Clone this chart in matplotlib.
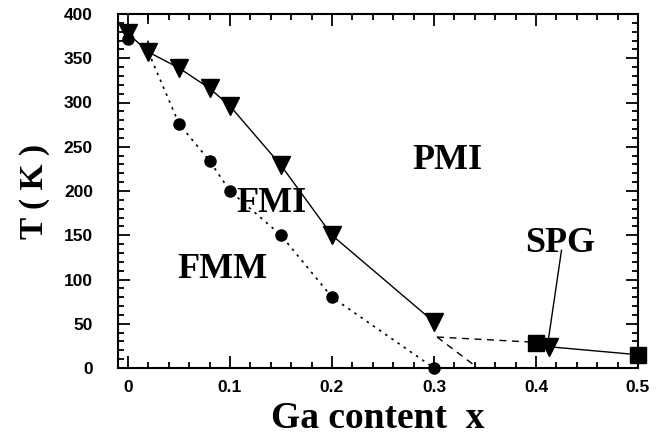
import matplotlib
matplotlib.use("Agg")
import matplotlib.pyplot as plt
from matplotlib.ticker import MultipleLocator

# Transition temperatures vs Ga content
x_tri = [0.0, 0.02, 0.05, 0.08, 0.10, 0.15, 0.20, 0.30]
t_tri = [378, 357, 339, 316, 296, 229, 150, 52]

x_circ = [0.0, 0.05, 0.08, 0.10, 0.15, 0.20, 0.30]
t_circ = [372, 276, 234, 200, 150, 80, 0]

x_sq = [0.40, 0.50]
t_sq = [28, 15]

x_spg_tri = [0.413]
t_spg_tri = [24]

# dashed boundaries
x_dash_h = [0.303, 0.40]
t_dash_h = [35, 29]
x_dash_d = [0.303, 0.343]
t_dash_d = [35, 0]
x_dash_v = [0.02, 0.02]
t_dash_v = [400, 358]

serif = ["Liberation Serif", "DejaVu Serif"]
sans = ["Liberation Sans", "DejaVu Sans"]

fig = plt.figure(figsize=(6.72, 4.45), dpi=100)
ax = fig.add_axes([118/672, 1-368/445, 520/672, 354/445])

# solid line through triangles, continuing at high x
ax.plot(x_tri, t_tri, "-", color="black", lw=1.0, zorder=2)
ax.plot([x_sq[0], x_spg_tri[0], x_sq[1]], [t_sq[0], t_spg_tri[0], t_sq[1]],
        "-", color="black", lw=1.0, zorder=2)
# dotted line through circles
ax.plot([x_tri[1]] + x_circ[1:], [t_tri[1]] + t_circ[1:], color="black",
        lw=1.2, linestyle=(0, (1.5, 3)), zorder=2)
# dashed lines
ax.plot(x_dash_h, t_dash_h, color="black", lw=1.0, linestyle=(0, (5, 4)), zorder=2)
ax.plot(x_dash_d, t_dash_d, color="black", lw=1.0, linestyle=(0, (5, 4)), zorder=2, clip_on=False)
ax.plot(x_dash_v, t_dash_v, color="black", lw=1.2, linestyle=(0, (6, 10)), zorder=2)

# markers
ax.plot(x_circ, t_circ, "o", color="black", ms=8, zorder=3, clip_on=False)
ax.plot(x_tri, t_tri, "v", color="black", ms=13, zorder=4, clip_on=False)
ax.plot(x_sq, t_sq, "s", color="black", ms=11.5, zorder=3, clip_on=False)
ax.plot(x_spg_tri, t_spg_tri, "v", color="black", ms=13, zorder=4, clip_on=False)

# region labels
lab = dict(family=serif, fontweight="bold", fontsize=26, ha="center", va="center")
ax.text(0.313, 235, "PMI", **lab)
ax.text(0.141, 186, "FMI", **lab)
ax.text(0.093, 111, "FMM", **lab)
ax.text(0.424, 141, "SPG", **lab)
ax.plot([0.425, 0.412], [133, 31], color="black", lw=1.0, zorder=2)

ax.set_xlim(-0.0098, 0.5)
ax.set_ylim(0, 400)
ax.xaxis.set_major_locator(MultipleLocator(0.1))
ax.xaxis.set_minor_locator(MultipleLocator(0.02))
ax.yaxis.set_major_locator(MultipleLocator(50))
ax.yaxis.set_minor_locator(MultipleLocator(10))
ax.set_xticks([0, 0.1, 0.2, 0.3, 0.4, 0.5])
ax.set_xticklabels(["0", "0.1", "0.2", "0.3", "0.4", "0.5"])

ax.tick_params(which="both", direction="in", top=True, right=True, width=1.3)
ax.tick_params(which="major", length=8.5)
ax.tick_params(which="minor", length=4.3)
ax.tick_params(axis="x", which="major", pad=9)
ax.tick_params(axis="y", which="major", pad=18)
for lbl in ax.get_xticklabels() + ax.get_yticklabels():
    lbl.set_family(sans)
    lbl.set_fontweight("bold")
    lbl.set_fontsize(12.5)
for s in ax.spines.values():
    s.set_linewidth(1.5)

ax.set_xlabel("Ga content  x", family=serif, fontweight="bold", fontsize=27, labelpad=4)
ax.set_ylabel("T ( K )", family=serif, fontweight="bold", fontsize=24, labelpad=10)

fig.savefig("out.png", dpi=100)
